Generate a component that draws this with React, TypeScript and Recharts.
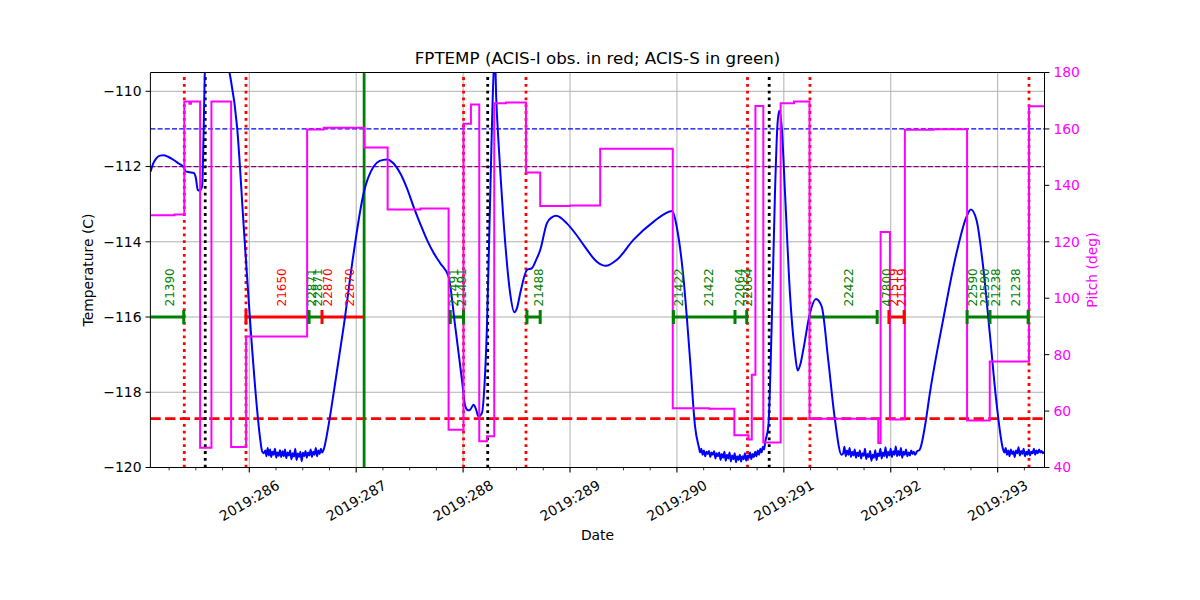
import { ComposedChart, Line, XAxis, YAxis, ReferenceLine, Scatter } from 'recharts'

const GREEN = '#008000'
const RED = '#ff0000'
const MAGENTA = '#ff00ff'
const BLUE = '#0000ff'
const GRID = '#b0b0b0'

// x values are fractional day of year 2019
const majorDays = [286, 287, 288, 289, 290, 291, 292, 293]
const dateTicks = [
  285.25, 285.5, 285.75, 286, 286.25, 286.5, 286.75, 287, 287.25, 287.5, 287.75,
  288, 288.25, 288.5, 288.75, 289, 289.25, 289.5, 289.75, 290, 290.25, 290.5,
  290.75, 291, 291.25, 291.5, 291.75, 292, 292.25, 292.5, 292.75, 293, 293.25,
]
const tempTicks = [-120, -118, -116, -114, -112, -110]
const pitchTicks = [40, 60, 80, 100, 120, 140, 160, 180]

// FPTEMP (deg C)
const fptemp: [number, number][] = [
  [285.076, -112.14], [285.1, -111.93], [285.13, -111.78], [285.165, -111.71],
  [285.2, -111.7], [285.24, -111.74], [285.29, -111.82], [285.34, -111.92],
  [285.387, -112.02], [285.405, -112.13], [285.44, -112.15], [285.481, -112.17],
  [285.5, -112.3], [285.518, -112.62], [285.535, -112.64], [285.559, -112.52],
  [285.572, -111.2], [285.583, -109.6], [285.6, -108.6], [285.66, -108.3],
  [285.74, -108.7], [285.817, -109.53], [285.886, -110.95], [285.948, -113.6],
  [286.011, -116.25], [286.073, -118.46], [286.1, -119.2], [286.12, -119.57],
  [286.135, -119.62], [286.15, -119.55], [286.16, -119.7], [286.172, -119.48],
  [286.183, -119.68], [286.195, -119.52], [286.205, -119.72], [286.216, -119.58],
  [286.228, -119.66], [286.24, -119.5], [286.252, -119.74], [286.263, -119.6],
  [286.275, -119.69], [286.287, -119.54], [286.298, -119.72], [286.31, -119.57],
  [286.322, -119.7], [286.334, -119.52], [286.346, -119.75], [286.358, -119.6],
  [286.37, -119.68], [286.382, -119.55], [286.394, -119.78], [286.406, -119.62],
  [286.418, -119.71], [286.43, -119.5], [286.442, -119.8], [286.454, -119.63],
  [286.466, -119.72], [286.478, -119.58], [286.49, -119.83], [286.502, -119.61],
  [286.514, -119.7], [286.526, -119.56], [286.538, -119.74], [286.55, -119.6],
  [286.562, -119.68], [286.574, -119.52], [286.586, -119.72], [286.598, -119.58],
  [286.61, -119.66], [286.622, -119.48], [286.634, -119.7], [286.646, -119.55],
  [286.658, -119.64], [286.67, -119.5], [286.681, -119.6], [286.696, -119.52],
  [286.74, -118.9], [286.789, -118.02], [286.883, -116.25], [286.976, -114.3],
  [287.069, -112.71], [287.163, -112.0], [287.22, -111.85], [287.288, -111.81],
  [287.35, -111.92], [287.412, -112.18], [287.475, -112.58], [287.537, -113.07],
  [287.6, -113.53], [287.662, -113.95], [287.725, -114.3], [287.786, -114.57],
  [287.864, -114.93], [287.926, -116.25], [287.989, -117.67], [288.02, -118.37],
  [288.045, -118.48], [288.067, -118.46], [288.098, -118.33], [288.12, -118.45],
  [288.144, -118.64], [288.176, -118.55], [288.2, -117.8], [288.223, -116.25],
  [288.254, -112.71], [288.284, -109.6], [288.297, -109.0], [288.31, -110.2],
  [288.33, -111.3], [288.347, -112.1], [288.394, -114.04], [288.44, -115.37],
  [288.478, -115.87], [288.505, -115.75], [288.534, -115.37], [288.597, -114.75],
  [288.643, -114.7], [288.68, -114.5], [288.721, -114.22], [288.783, -113.51],
  [288.83, -113.35], [288.87, -113.31], [288.97, -113.51], [289.05, -113.78],
  [289.126, -114.08], [289.251, -114.53], [289.335, -114.64], [289.438, -114.48],
  [289.593, -113.95], [289.78, -113.47], [289.957, -113.18], [289.998, -113.6],
  [290.06, -114.93], [290.123, -117.14], [290.169, -118.9], [290.21, -119.52],
  [290.216, -119.6], [290.228, -119.5], [290.24, -119.66], [290.252, -119.55],
  [290.264, -119.7], [290.276, -119.58], [290.288, -119.64], [290.3, -119.56],
  [290.312, -119.72], [290.324, -119.6], [290.336, -119.66], [290.348, -119.57],
  [290.36, -119.76], [290.372, -119.62], [290.384, -119.7], [290.396, -119.6],
  [290.408, -119.8], [290.42, -119.64], [290.432, -119.74], [290.444, -119.58],
  [290.456, -119.82], [290.468, -119.66], [290.48, -119.76], [290.492, -119.6],
  [290.504, -119.84], [290.516, -119.68], [290.528, -119.78], [290.54, -119.62],
  [290.552, -119.86], [290.564, -119.7], [290.576, -119.8], [290.588, -119.66],
  [290.6, -119.84], [290.612, -119.7], [290.624, -119.78], [290.636, -119.62],
  [290.648, -119.82], [290.66, -119.68], [290.672, -119.75], [290.684, -119.6],
  [290.696, -119.78], [290.708, -119.64], [290.72, -119.72], [290.732, -119.58],
  [290.744, -119.7], [290.756, -119.55], [290.768, -119.66], [290.78, -119.5],
  [290.792, -119.6], [290.804, -119.45], [290.816, -119.52], [290.824, -119.35],
  [290.855, -118.9], [290.886, -116.25], [290.917, -112.71], [290.939, -110.95],
  [290.957, -110.52], [290.98, -110.95], [291.011, -112.71], [291.057, -115.37],
  [291.104, -116.96], [291.129, -117.42], [291.155, -117.25], [291.182, -116.87],
  [291.244, -115.9], [291.3, -115.52], [291.354, -115.72], [291.415, -117.14],
  [291.478, -118.73], [291.54, -119.66], [291.555, -119.62], [291.567, -119.45],
  [291.579, -119.7], [291.591, -119.55], [291.603, -119.66], [291.615, -119.48],
  [291.627, -119.72], [291.639, -119.58], [291.651, -119.68], [291.663, -119.52],
  [291.675, -119.74], [291.687, -119.6], [291.699, -119.7], [291.711, -119.55],
  [291.723, -119.76], [291.735, -119.62], [291.747, -119.69], [291.759, -119.5],
  [291.771, -119.78], [291.783, -119.64], [291.795, -119.72], [291.807, -119.56],
  [291.819, -119.82], [291.831, -119.66], [291.843, -119.74], [291.855, -119.54],
  [291.867, -119.8], [291.879, -119.63], [291.891, -119.7], [291.903, -119.5],
  [291.915, -119.76], [291.927, -119.6], [291.939, -119.7], [291.951, -119.46],
  [291.963, -119.74], [291.975, -119.58], [291.987, -119.68], [291.999, -119.5],
  [292.011, -119.72], [292.023, -119.57], [292.035, -119.66], [292.047, -119.44],
  [292.059, -119.7], [292.071, -119.56], [292.083, -119.68], [292.095, -119.48],
  [292.107, -119.74], [292.119, -119.58], [292.131, -119.66], [292.143, -119.52],
  [292.155, -119.7], [292.167, -119.6], [292.179, -119.68], [292.191, -119.55],
  [292.203, -119.64], [292.215, -119.58], [292.227, -119.66], [292.244, -119.58],
  [292.272, -119.52], [292.32, -118.9], [292.366, -118.02], [292.49, -116.07],
  [292.615, -114.3], [292.709, -113.33], [292.749, -113.14], [292.802, -113.42],
  [292.864, -114.66], [292.926, -116.43], [292.989, -118.28], [293.051, -119.52],
  [293.063, -119.6], [293.075, -119.48], [293.087, -119.66], [293.099, -119.55],
  [293.111, -119.7], [293.123, -119.52], [293.135, -119.64], [293.147, -119.57],
  [293.159, -119.72], [293.171, -119.55], [293.183, -119.62], [293.195, -119.46],
  [293.207, -119.68], [293.219, -119.56], [293.231, -119.64], [293.243, -119.5],
  [293.255, -119.7], [293.267, -119.58], [293.279, -119.66], [293.291, -119.52],
  [293.303, -119.68], [293.315, -119.58], [293.327, -119.62], [293.339, -119.5],
  [293.351, -119.66], [293.363, -119.55], [293.375, -119.62], [293.387, -119.52],
  [293.399, -119.6], [293.411, -119.56], [293.423, -119.62], [293.435, -119.58],
]

// pitch (deg), held until the next entry
const pitch: [number, number][] = [
  [285.076, 129.4], [285.3, 129.7], [285.392, 169.7], [285.44, 168.9],
  [285.455, 169.7], [285.54, 47.0], [285.646, 169.7], [285.83, 47.3],
  [285.97, 86.4], [286.541, 159.8], [286.696, 160.4], [287.074, 153.4],
  [287.294, 131.4], [287.6, 131.8], [287.864, 53.4], [288.004, 161.8],
  [288.073, 168.7], [288.151, 49.3], [288.223, 51.1], [288.291, 169.1],
  [288.4, 169.4], [288.588, 144.6], [288.721, 132.7], [289.0, 132.9],
  [289.282, 153.0], [289.961, 61.0], [290.3, 60.8], [290.537, 51.4],
  [290.669, 49.9], [290.7, 72.9], [290.734, 168.1], [290.808, 48.9],
  [290.97, 169.1], [291.095, 169.7], [291.24, 57.3], [291.883, 48.7],
  [291.905, 123.5], [291.992, 57.0], [292.132, 159.7], [292.4, 159.9],
  [292.714, 56.7], [292.926, 77.6], [293.293, 168.0], [293.44, 168.0],
]

const redMarks = [285.392, 285.969, 288.004, 288.588, 290.66, 291.244, 293.293]
const blackMarks = [285.588, 288.23, 290.863]
const greenMark = 287.074

const limitHigh = -111
const limitPlan = -112
const limitLow = -118.7
const obsLevel = -116
const labelLevel = -115.72

// observation intervals: start, end, ACIS-I (red) or ACIS-S (green)
const obsSegments: [number, number, string][] = [
  [285.076, 285.387, 'S'], [285.969, 286.541, 'I'], [286.541, 286.68, 'S'],
  [286.68, 287.066, 'I'], [287.88, 288.004, 'S'], [288.597, 288.721, 'S'],
  [289.967, 290.653, 'S'], [291.244, 291.873, 'S'], [291.983, 292.125, 'I'],
  [292.714, 293.285, 'S'],
]
const obsCaps: [number, string][] = [
  [285.387, 'S'], [285.969, 'I'], [286.559, 'S'], [286.68, 'I'], [287.88, 'S'],
  [288.004, 'S'], [288.597, 'S'], [288.721, 'S'], [289.967, 'S'], [290.543, 'S'],
  [290.653, 'S'], [291.873, 'S'], [291.983, 'I'], [292.125, 'I'], [292.714, 'S'],
  [292.928, 'S'], [293.285, 'S'],
]
const obsLabels: [number, string, string][] = [
  [285.263, '21390', 'S'], [286.31, '21650', 'I'], [286.587, '22871', 'S'],
  [286.646, '22871', 'S'], [286.737, '22870', 'I'], [286.939, '22870', 'I'],
  [287.911, '21491', 'S'], [287.989, '21491', 'S'], [288.712, '21488', 'S'],
  [290.023, '21422', 'S'], [290.303, '21422', 'S'], [290.59, '22064', 'S'],
  [290.667, '22064', 'S'], [291.612, '22422', 'S'], [291.961, '47800', 'S'],
  [292.029, '21519', 'I'], [292.101, '21519', 'I'], [292.77, '22590', 'S'],
  [292.88, '22590', 'S'], [292.983, '21238', 'S'], [293.169, '21238', 'S'],
]

const colorOf = (k: string) => (k === 'I' ? RED : GREEN)

const tempData = fptemp.map(([day, temp]) => ({ day, temp }))
const pitchData = pitch.map(([day, p]) => ({ day, pitch: p }))
const capData = obsCaps.map(([day, k]) => ({ day, temp: obsLevel, color: colorOf(k) }))
const labelData = obsLabels.map(([day, text, k]) => ({ day, temp: labelLevel, text, color: colorOf(k) }))

const fmtTemp = (v: number) => (v < 0 ? `\u2212${Math.abs(v)}` : `${v}`)

function DateTick(props: any) {
  const { x, y, payload } = props
  const v = payload.value as number
  const major = majorDays.includes(v)
  const ty = y + 33
  return (
    <g>
      <line x1={x} x2={x} y1={y} y2={y + (major ? 4.9 : 2.8)} stroke="#000" strokeWidth={major ? 1.1 : 0.8} />
      {major && (
        <text
          x={x}
          y={ty}
          textAnchor="middle"
          dominantBaseline="central"
          transform={`rotate(-30 ${x} ${ty})`}
          fontSize={13.9}
          fill="#000"
        >
          {`2019:${v}`}
        </text>
      )}
    </g>
  )
}

function CapShape(props: any) {
  const { cx, cy, payload } = props
  return <line x1={cx} x2={cx} y1={cy - 7} y2={cy + 7} stroke={payload.color} strokeWidth={3} />
}

function ObsLabel(props: any) {
  const { cx, cy, payload } = props
  return (
    <text
      x={cx}
      y={cy}
      textAnchor="start"
      dominantBaseline="central"
      transform={`rotate(-90 ${cx} ${cy})`}
      fontSize={12}
      fill={payload.color}
    >
      {payload.text}
    </text>
  )
}

const textBase: React.CSSProperties = {
  position: 'absolute',
  lineHeight: '20px',
  height: 20,
  textAlign: 'center',
  whiteSpace: 'nowrap',
}

export default function App() {
  return (
    <div
      style={{
        position: 'absolute',
        left: 0,
        top: 0,
        width: 1200,
        height: 600,
        background: '#fff',
        fontFamily: '"DejaVu Sans", sans-serif',
      }}
    >
      <ComposedChart
        width={1200}
        height={600}
        margin={{ top: 72.5, right: 95.5, bottom: 92.5, left: 90.4 }}
      >
        <XAxis
          xAxisId="d"
          dataKey="day"
          type="number"
          domain={[285.075, 293.438]}
          allowDataOverflow
          ticks={dateTicks}
          interval={0}
          tick={DateTick}
          tickLine={false}
          tickSize={0}
          tickMargin={0}
          height={40}
          stroke="#000"
        />
        <YAxis
          yAxisId="t"
          orientation="left"
          domain={[-120, -109.5]}
          allowDataOverflow
          ticks={tempTicks}
          tickFormatter={fmtTemp}
          width={60}
          tickSize={4.9}
          tickMargin={4}
          stroke="#000"
          tick={{ fill: '#000', fontSize: 13.9 }}
        />
        <YAxis
          yAxisId="p"
          orientation="right"
          domain={[40, 180]}
          allowDataOverflow
          ticks={pitchTicks}
          width={60}
          tickSize={4.9}
          tickMargin={4}
          stroke="#000"
          tick={{ fill: MAGENTA, fontSize: 13.9 }}
        />

        {majorDays.map((d) => (
          <ReferenceLine key={`gx${d}`} xAxisId="d" yAxisId="t" x={d} stroke={GRID} strokeWidth={1} />
        ))}
        {tempTicks.map((t) => (
          <ReferenceLine key={`gy${t}`} xAxisId="d" yAxisId="t" y={t} stroke={GRID} strokeWidth={1} />
        ))}

        <ReferenceLine xAxisId="d" yAxisId="t" y={limitHigh} stroke={BLUE} strokeWidth={1.2} strokeDasharray="5 2.2" />
        <ReferenceLine xAxisId="d" yAxisId="t" y={limitPlan} stroke="#800080" strokeWidth={1.2} strokeDasharray="5 2.2" />
        <ReferenceLine xAxisId="d" yAxisId="t" y={limitLow} stroke={RED} strokeWidth={2.8} strokeDasharray="10.3 4.4" />

        {redMarks.map((d) => (
          <ReferenceLine key={`r${d}`} xAxisId="d" yAxisId="t" x={d} stroke={RED} strokeWidth={2.8} strokeDasharray="2.8 4" />
        ))}
        {blackMarks.map((d) => (
          <ReferenceLine key={`k${d}`} xAxisId="d" yAxisId="t" x={d} stroke="#000" strokeWidth={2.8} strokeDasharray="2.8 4" />
        ))}
        <ReferenceLine xAxisId="d" yAxisId="t" x={greenMark} stroke={GREEN} strokeWidth={2.8} />

        {obsSegments.map(([a, b, k], i) => (
          <Line
            key={`seg${i}`}
            xAxisId="d"
            yAxisId="t"
            data={[{ day: a, temp: obsLevel }, { day: b, temp: obsLevel }]}
            dataKey="temp"
            stroke={colorOf(k)}
            strokeWidth={2.8}
            dot={false}
            activeDot={false}
            isAnimationActive={false}
          />
        ))}
        <Scatter
          xAxisId="d"
          yAxisId="t"
          data={capData}
          dataKey="temp"
          shape={CapShape}
          isAnimationActive={false}
        />
        <Scatter
          xAxisId="d"
          yAxisId="t"
          data={labelData}
          dataKey="temp"
          shape={ObsLabel}
          isAnimationActive={false}
        />

        <Line
          xAxisId="d"
          yAxisId="t"
          data={tempData}
          dataKey="temp"
          type="monotoneX"
          stroke={BLUE}
          strokeWidth={2}
          dot={false}
          activeDot={false}
          isAnimationActive={false}
        />
        <Line
          xAxisId="d"
          yAxisId="p"
          data={pitchData}
          dataKey="pitch"
          type="stepAfter"
          stroke={MAGENTA}
          strokeWidth={2}
          dot={false}
          activeDot={false}
          isAnimationActive={false}
        />
        <ReferenceLine xAxisId="d" yAxisId="t" y={-109.5} stroke="#000" strokeWidth={1.1} />
      </ComposedChart>

      <div style={{ ...textBase, left: 0, width: 1195, top: 48, fontSize: 16.7 }}>
        FPTEMP (ACIS-I obs. in red; ACIS-S in green)
      </div>
      <div style={{ ...textBase, left: 497.5, width: 200, top: 525, fontSize: 13.9 }}>Date</div>
      <div
        style={{
          ...textBase,
          left: -12,
          width: 200,
          top: 260,
          fontSize: 13.9,
          transform: 'rotate(-90deg)',
        }}
      >
        Temperature (C)
      </div>
      <div
        style={{
          ...textBase,
          left: 992,
          width: 200,
          top: 260,
          fontSize: 13.9,
          color: MAGENTA,
          transform: 'rotate(-90deg)',
        }}
      >
        Pitch (deg)
      </div>
    </div>
  )
}
